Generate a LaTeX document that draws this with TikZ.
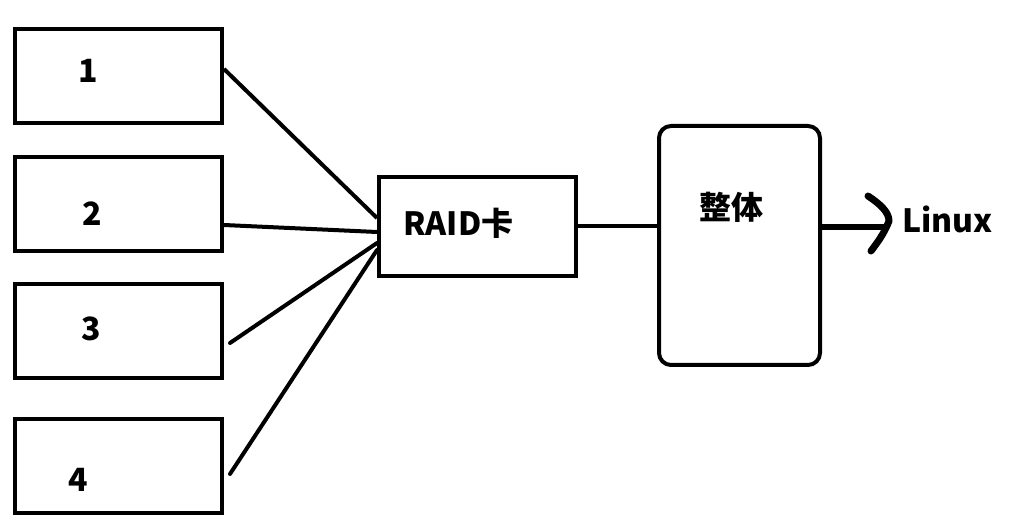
\documentclass[tikz,border=0pt]{standalone}
\usepackage{fontspec}
\setmainfont{Noto Sans CJK SC}
\usetikzlibrary{calc}
\tikzset{
  disk/.style={draw, line width=4pt, inner sep=0pt, minimum width=207pt, minimum height=94pt},
  lbl/.style={font=\fontsize{32}{32}\selectfont\bfseries, inner sep=0pt, anchor=base},
  wire/.style={line width=4pt},
}
\begin{document}
\begin{tikzpicture}[x=1pt,y=-1pt]
\useasboundingbox (0,0) rectangle (1018,521);
\node[disk] (b1) at (118.5,76) {};
\node[disk] (b2) at (118.5,204) {};
\node[disk] (b3) at (118.5,331) {};
\node[disk] (b4) at (118.5,465.5) {};
\node[lbl] (t1) at (88,83) {1};
\node[lbl] (t2) at (92,226) {2};
\node[lbl] (t3) at (91,341) {3};
\node[lbl] (t4) at (78,491) {4};
\node[draw, line width=4pt, inner sep=0pt, minimum width=197pt, minimum height=99pt] (raid) at (477.5,226.5) {};
\node[lbl] (traid) at (458.5,236) {RAID卡};
\node[draw, line width=4pt, rounded corners=12pt, inner sep=0pt, minimum width=161pt, minimum height=239pt] (whole) at (739.5,245.5) {};
\node[lbl, anchor=center] (twhole) at (731,207) {整体};
\node[lbl, anchor=base west] (linux) at (902,233) {Linux};
% connectors
\draw[wire] ([yshift=7pt]b1.east) -- ([yshift=8.5pt]raid.west);
\draw[wire] ([yshift=-21pt]b2.east) -- ([yshift=-5.5pt]raid.west);
\draw[wire, line cap=round] ([xshift=6pt,yshift=-12pt]b3.east) -- ([yshift=-16.5pt]raid.west);
\draw[wire, line cap=round] ([xshift=6pt,yshift=-8.5pt]b4.east) -- ([yshift=-23.5pt]raid.west);
\draw[wire] (raid.east) -- (raid.east -| whole.west);
\coordinate (tip) at (889,221);
\coordinate (join) at (884,227);
\draw[line width=6pt] ([yshift=18.5pt]whole.east) -- (join);
\draw[line width=7pt, line cap=round, line join=round] (868,196) .. controls (880,204) and (889,212) .. (tip) .. controls (884,234) and (877,243) .. (871,251);
\end{tikzpicture}
\end{document}
